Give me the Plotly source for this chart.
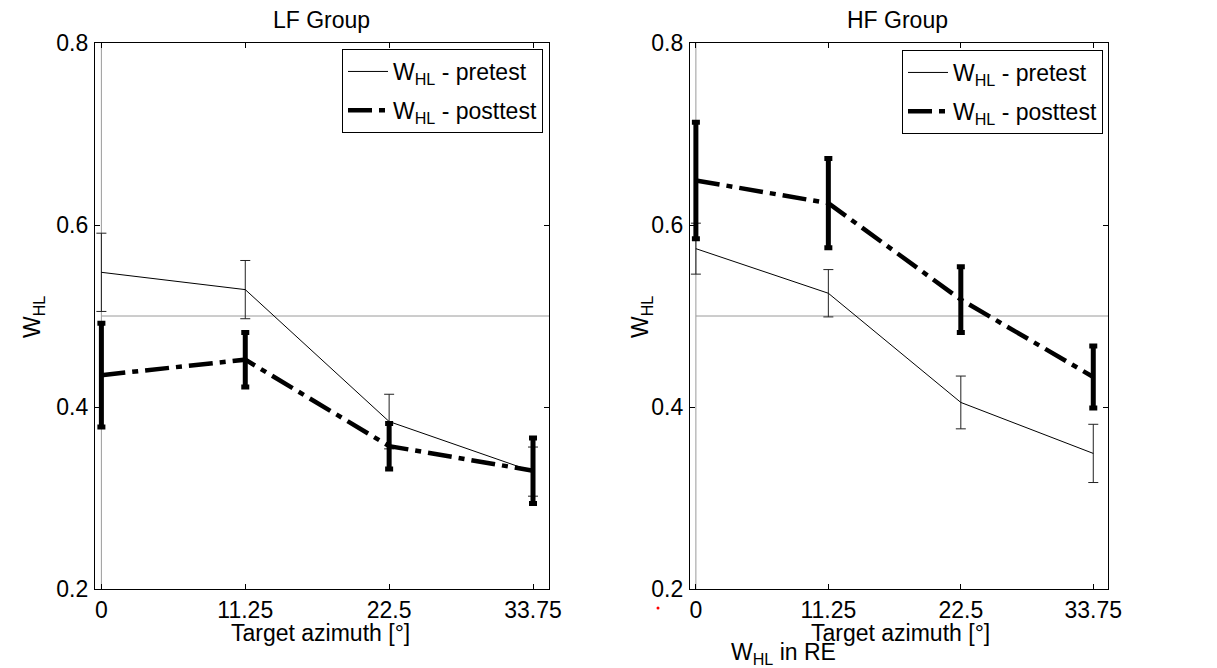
import plotly.graph_objects as go

# ---- data ----
azimuth = [0, 11.25, 22.5, 33.75]
tick_labels = ["0", "11.25", "22.5", "33.75"]

lf_pre = [0.548, 0.529, 0.384, 0.329]
lf_pre_err = [0.043, 0.032, 0.030, 0.027]
lf_post = [0.435, 0.452, 0.357, 0.330]
lf_post_err = [0.057, 0.030, 0.025, 0.036]

hf_pre = [0.574, 0.525, 0.405, 0.349]
hf_pre_err = [0.028, 0.026, 0.029, 0.032]
hf_post = [0.649, 0.624, 0.518, 0.433]
hf_post_err = [0.064, 0.049, 0.036, 0.034]

ref_x = [0, 35]
ref_y = [0.5, 0.5]
vert_x = [0, 0]
vert_y = [0.2, 0.8]

FONT = "Liberation Sans, Arial, sans-serif"
FS = 23
W, H = 1217, 668

fig = go.Figure()

def add_panel(xa, ya, pre, pre_err, post, post_err, legend):
    # reference lines
    fig.add_trace(go.Scatter(x=ref_x, y=ref_y, mode="lines", xaxis=xa, yaxis=ya,
                             line=dict(color="#9a9a9a", width=1), showlegend=False, hoverinfo="skip"))
    fig.add_trace(go.Scatter(x=vert_x, y=vert_y, mode="lines", xaxis=xa, yaxis=ya,
                             line=dict(color="#9a9a9a", width=1), showlegend=False, hoverinfo="skip"))
    fig.add_trace(go.Scatter(x=azimuth, y=pre, mode="lines", xaxis=xa, yaxis=ya,
                             name="W<sub>HL</sub> - pretest", legend=legend,
                             legendgroup=legend + "pre",
                             line=dict(color="black", width=1),
                             error_y=dict(type="data", array=pre_err, color="#222222",
                                          thickness=1, width=5)))
    fig.add_trace(go.Scatter(x=azimuth, y=post, mode="lines", xaxis=xa, yaxis=ya,
                             name="W<sub>HL</sub> - posttest", legend=legend,
                             legendgroup=legend + "post",
                             line=dict(color="black", width=4.5, dash="24px,7px,6px,7px"),
                             error_y=dict(type="data", array=post_err, color="black",
                                          thickness=5, width=4)))

add_panel("x", "y", lf_pre, lf_pre_err, lf_post, lf_post_err, "legend")
add_panel("x2", "y2", hf_pre, hf_pre_err, hf_post, hf_post_err, "legend2")

def px_x(p):
    return p / W

def px_y(p):
    return 1 - p / H

axis_common = dict(showline=True, linecolor="black", linewidth=1.3, mirror="ticks",
                   ticks="inside", ticklen=5, tickcolor="black", showgrid=False,
                   zeroline=False, tickfont=dict(family=FONT, size=FS, color="black"),
                   automargin=False)

ydom = [px_y(589), px_y(43)]
xaxis_cfg = dict(range=[-0.5, 35], tickvals=azimuth, ticktext=tick_labels, **axis_common)
yaxis_cfg = dict(range=[0.2, 0.8], tickvals=[0.2, 0.4, 0.6, 0.8],
                 ticktext=["0.2", "0.4", "0.6", "0.8"], ticklabelstandoff=1, **axis_common)

legend_common = dict(bgcolor="white", bordercolor="black", borderwidth=1,
                     font=dict(family=FONT, size=FS, color="black"),
                     xanchor="right", yanchor="top", itemwidth=40,
                     tracegroupgap=6)

fig.update_layout(
    width=W, height=H,
    margin=dict(l=0, r=0, t=0, b=0),
    paper_bgcolor="white", plot_bgcolor="white",
    font=dict(family=FONT, size=FS, color="black"),
    xaxis=dict(domain=[px_x(95), px_x(549)], anchor="y", **xaxis_cfg),
    yaxis=dict(domain=ydom, anchor="x", **yaxis_cfg),
    xaxis2=dict(domain=[px_x(690), px_x(1108)], anchor="y2", **xaxis_cfg),
    yaxis2=dict(domain=ydom, anchor="x2", **yaxis_cfg),
    legend=dict(x=px_x(543), y=px_y(49), **legend_common),
    legend2=dict(x=px_x(1103), y=px_y(50), **legend_common),
    showlegend=True,
)

annos = [
    dict(text="LF Group", x=px_x(321), y=px_y(20)),
    dict(text="HF Group", x=px_x(897), y=px_y(20)),
    dict(text="Target azimuth [°]", x=px_x(320), y=px_y(633)),
    dict(text="Target azimuth [°]", x=px_x(900), y=px_y(633)),
    dict(text="W<sub>HL</sub>", x=px_x(33), y=px_y(317), textangle=-90),
    dict(text="W<sub>HL</sub>", x=px_x(641), y=px_y(317), textangle=-90),
    dict(text="W<sub>HL</sub> in RE", x=px_x(783), y=px_y(653)),
]
for a in annos:
    fig.add_annotation(xref="paper", yref="paper", showarrow=False,
                       xanchor="center", yanchor="middle",
                       font=dict(family=FONT, size=FS, color="black"), **a)

# small red dot artifact
fig.add_shape(type="circle", xref="paper", yref="paper",
              x0=px_x(656.5), x1=px_x(659.5), y0=px_y(609.5), y1=px_y(606.5),
              fillcolor="red", line=dict(width=0))

fig.write_html("out.html")
